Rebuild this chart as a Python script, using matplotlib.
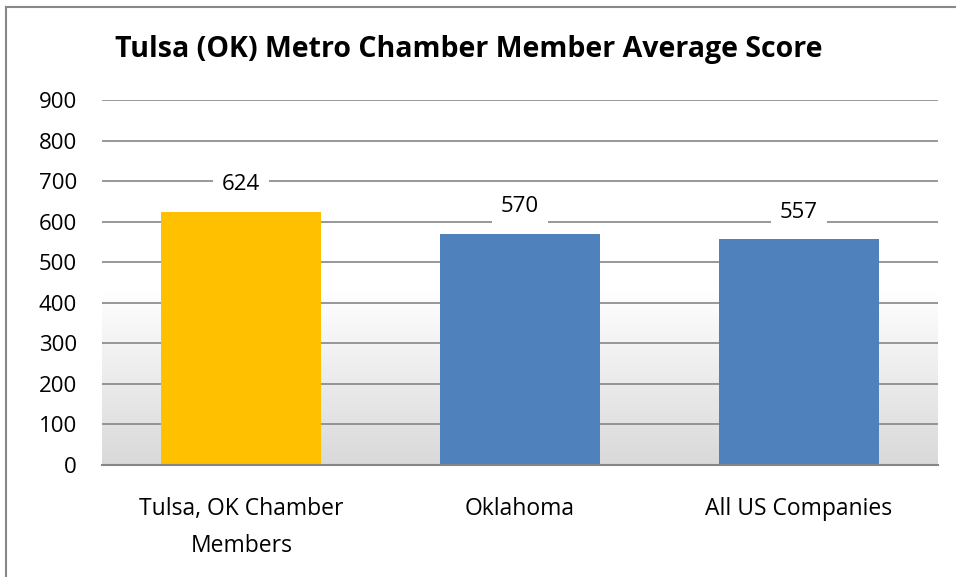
import matplotlib
matplotlib.use("Agg")
import matplotlib.pyplot as plt
import numpy as np
from matplotlib.lines import Line2D
from matplotlib.colors import LinearSegmentedColormap

categories = ["Tulsa, OK Chamber\nMembers", "Oklahoma", "All US Companies"]
values = [624, 570, 557]
colors = ["#FFC000", "#4F81BD", "#4F81BD"]
yticks = [0, 100, 200, 300, 400, 500, 600, 700, 800, 900]
title = "Tulsa (OK) Metro Chamber Member Average Score"

plt.rcParams['font.family'] = ['Open Sans', 'DejaVu Sans']

W, H = 956, 577
fig = plt.figure(figsize=(W / 100, H / 100), dpi=100)
# outer chart border (left and top visible)
fig.lines.append(Line2D([6 / W, 6 / W], [0, 1 - 7 / H], transform=fig.transFigure,
                        color="#888888", linewidth=1.5))
fig.lines.append(Line2D([6 / W, 1], [1 - 7 / H, 1 - 7 / H], transform=fig.transFigure,
                        color="#888888", linewidth=1.5))

ax = fig.add_axes([102 / W, 1 - 465 / H, 836 / W, 365 / H])

x = np.arange(len(categories))
ax.set_xlim(-0.5, len(categories) - 0.5)
ax.set_ylim(0, 900)

# gradient background
grad = np.linspace(0, 1, 256).reshape(-1, 1)
cmap = LinearSegmentedColormap.from_list("g", [(0, "#d9d9d9"), (1, "#ffffff")])
ax.imshow(grad, extent=(-0.5, len(categories) - 0.5, 0, 430), origin="lower",
          aspect="auto", cmap=cmap, zorder=0)

for t in yticks[1:]:
    ax.axhline(t, color="#868686", linewidth=1.2, zorder=1)

ax.bar(x, values, width=0.575, color=colors, zorder=2)
for xi, v in zip(x, values):
    ax.annotate(str(v), (xi, v), xytext=(0, 19.5), textcoords="offset points",
                ha="center", va="center", fontsize=16, color="#000000",
                bbox=dict(boxstyle="square,pad=0.4", fc="white", ec="none"),
                zorder=3)

ax.set_yticks(yticks)
ax.set_yticklabels([str(t) for t in yticks], fontsize=16)
ax.set_xticks(x)
ax.set_xticklabels(categories, fontsize=16.5, linespacing=1.7)
ax.tick_params(axis="both", length=0)
ax.tick_params(axis="y", pad=18)
ax.tick_params(axis="x", pad=23)
for s in ["top", "right", "left"]:
    ax.spines[s].set_visible(False)
ax.spines["bottom"].set_color("#868686")
ax.spines["bottom"].set_linewidth(1.5)
ax.set_facecolor("white")

fig.text(469 / W, 1 - 57 / H, title, ha="center", va="baseline", fontsize=20.5,
         fontweight="bold")

fig.savefig("out.png", dpi=100)
